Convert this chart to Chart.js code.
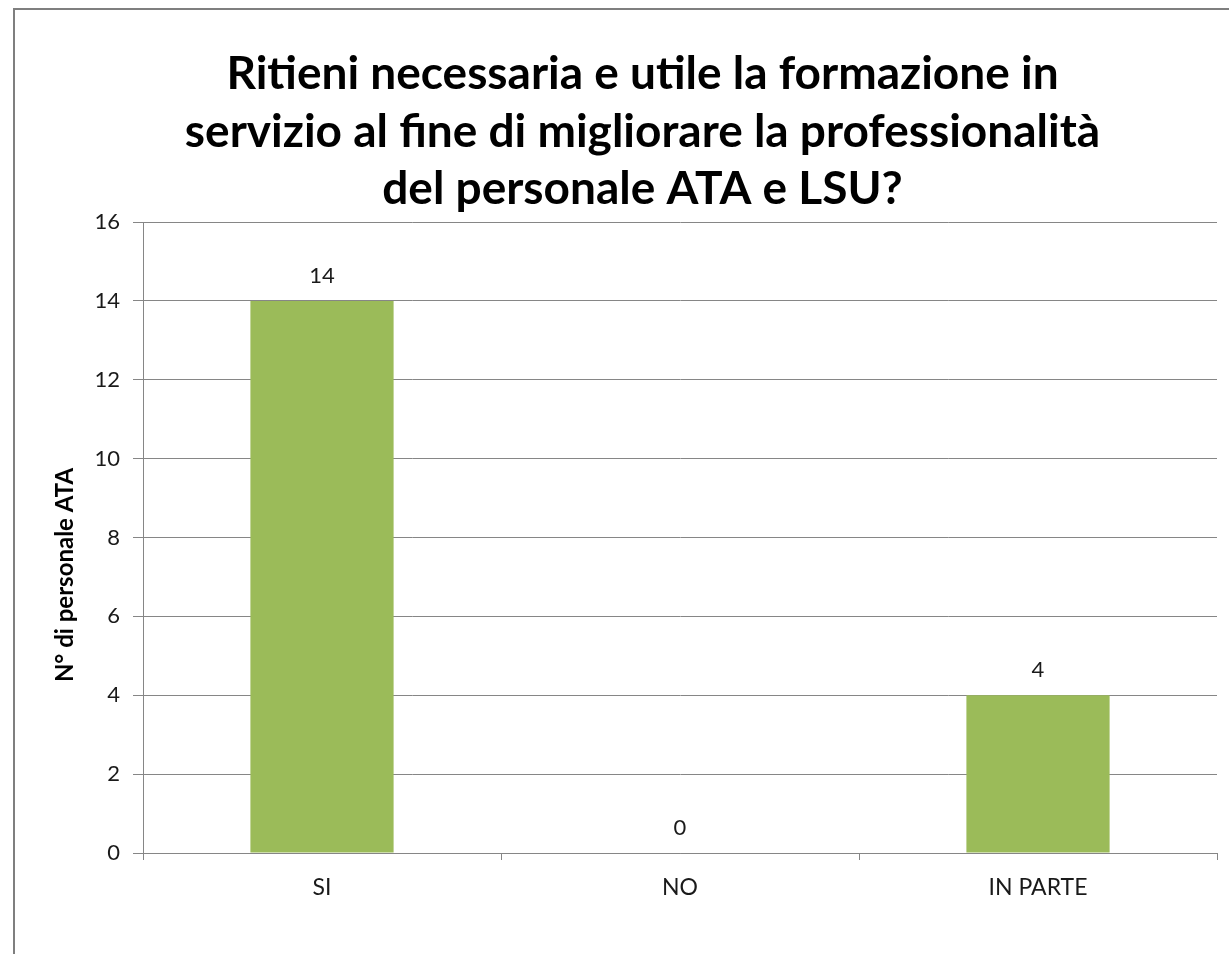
<!DOCTYPE html>
<html>
<head>
<meta charset="utf-8">
<script src="https://cdn.jsdelivr.net/npm/chart.js@4/dist/chart.umd.min.js"></script>
<style>
    html, body { margin: 0; padding: 0; background: #fff; }
    #wrap { position: relative; width: 1229px; height: 954px; }
</style>
</head>
<body>
<div id="wrap"><canvas id="myChart" width="1229" height="954"></canvas></div>
<script>
"use strict";

// data
const categories = ["SI", "NO", "IN PARTE"];
const answers = [14, 0, 4];
const yTicks = [0, 2, 4, 6, 8, 10, 12, 14, 16];
const titleLines = [
    "Ritieni necessaria e utile la formazione in",
    "servizio al fine di migliorare la professionalità",
    "del personale ATA e LSU?"
];
const yTitle = "N° di personale ATA";

const gridGray = "#868686";
const barGreen = "#9bbb59";
const textColor = "#1a1a1a";

// outer frame of the chart object
const framePlugin = {
    id: "frame",
    beforeDraw: (chart) => {
        const ctx = chart.ctx;
        ctx.save();
        ctx.fillStyle = "#fff";
        ctx.fillRect(0, 0, chart.width, chart.height);
        ctx.strokeStyle = "#7f7f7f";
        ctx.lineWidth = 2;
        ctx.strokeRect(14, 9, chart.width + 20, chart.height + 20);
        ctx.restore();
    }
};

// value labels above each bar
const valueLabels = {
    id: "valueLabels",
    afterDatasetsDraw: (chart) => {
        const ctx = chart.ctx;
        ctx.save();
        ctx.font = "22px Lato";
        ctx.fillStyle = textColor;
        ctx.textAlign = "center";
        ctx.textBaseline = "middle";
        chart.getDatasetMeta(0).data.forEach((bar, i) => {
            ctx.fillText(String(answers[i]), bar.x, bar.y - 25);
        });
        ctx.restore();
    }
};

const renderChart = () => {
    const ctx = document.getElementById("myChart");

    new Chart(ctx, {
        type: "bar",
        data: {
            labels: categories,
            datasets: [{
                label: yTitle,
                data: answers,
                backgroundColor: barGreen,
                borderWidth: 0,
                barPercentage: 0.4,
                categoryPercentage: 1
            }]
        },
        options: {
            responsive: false,
            animation: false,
            layout: {
                padding: { top: 30, right: 12, bottom: 0, left: 68 }
            },
            plugins: {
                legend: { display: false },
                tooltip: { enabled: false },
                title: {
                    display: true,
                    text: titleLines,
                    color: "#000",
                    font: { family: "Lato", size: 46, weight: "bold", lineHeight: 1.25 },
                    padding: { top: 15.5, bottom: 4 }
                }
            },
            scales: {
                x: {
                    offset: true,
                    grid: {
                        offset: true,
                        drawOnChartArea: false,
                        drawTicks: true,
                        tickLength: 7,
                        color: gridGray
                    },
                    border: { color: gridGray, width: 1 },
                    ticks: {
                        color: textColor,
                        font: { family: "Lato", size: 23 },
                        padding: 14
                    },
                    afterFit: (scale) => { scale.height = 101; }
                },
                y: {
                    min: 0,
                    max: 16,
                    afterBuildTicks: (scale) => {
                        scale.ticks = yTicks.map(v => ({ value: v }));
                    },
                    grid: {
                        color: gridGray,
                        tickLength: 10
                    },
                    border: { color: gridGray, width: 1 },
                    ticks: {
                        color: textColor,
                        font: { family: "Lato", size: 22 },
                        padding: 13
                    },
                    title: {
                        display: true,
                        // trailing spaces push the label down like in the original
                        text: yTitle + "\u00a0".repeat(13),
                        color: "#000",
                        font: { family: "Lato", size: 24, weight: "bold" },
                        padding: { top: -17, bottom: 0 }
                    },
                    afterFit: (scale) => { scale.width = 75; }
                }
            }
        },
        plugins: [framePlugin, valueLabels]
    });
};

document.addEventListener("DOMContentLoaded", () => {
    renderChart();
});
</script>
</body>
</html>
